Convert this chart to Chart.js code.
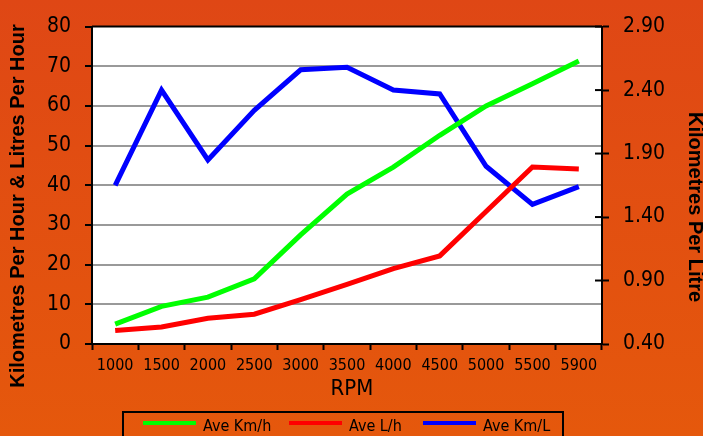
<!DOCTYPE html>
<html>
<head>
<meta charset="utf-8">
<script src="https://cdn.jsdelivr.net/npm/chart.js@4"></script>
<style>
  html, body { margin: 0; padding: 0; }
  body { width: 703px; height: 436px; overflow: hidden;
         background: linear-gradient(to bottom, #df4715, #e5580c); }
  canvas { display: block; }
</style>
</head>
<body>
<canvas id="chart" width="703" height="436"></canvas>
<script>
// RPM categories
const rpmLabels = ['1000', '1500', '2000', '2500', '3000', '3500', '4000', '4500', '5000', '5500', '5900'];

// series
const aveKmh = [5.0, 9.5, 11.8, 16.4, 27.5, 37.8, 44.6, 52.6, 60.0, 65.6, 71.3];
const aveLh = [3.4, 4.3, 6.5, 7.5, 11.2, 15.0, 19.0, 22.2, 33.4, 44.6, 44.1];
const aveKmL = [1.65, 2.40, 1.85, 2.24, 2.56, 2.58, 2.40, 2.37, 1.80, 1.50, 1.64];

const tickFont = 'DejaVu Sans Condensed, DejaVu Sans, sans-serif';

// white plot area, axis titles and boxed legend
const decorations = {
    id: 'decorations',
    beforeDraw: (chart) => {
        const { ctx, chartArea } = chart;
        ctx.save();
        ctx.fillStyle = '#FFFFFF';
        ctx.fillRect(chartArea.left, chartArea.top, chartArea.right - chartArea.left, chartArea.bottom - chartArea.top);
        ctx.restore();
    },
    afterDraw: (chart) => {
        const { ctx, chartArea } = chart;
        ctx.save();

        // top border of plot
        ctx.strokeStyle = '#000000';
        ctx.lineWidth = 2;
        ctx.beginPath();
        ctx.moveTo(chartArea.left, chartArea.top);
        ctx.lineTo(chartArea.right, chartArea.top);
        ctx.stroke();

        // right axis ticks cross into the plot
        const y1 = chart.scales.y1;
        y1.ticks.forEach((t) => {
            const py = y1.getPixelForValue(t.value);
            ctx.beginPath();
            ctx.moveTo(chartArea.right - 7, py);
            ctx.lineTo(chartArea.right, py);
            ctx.stroke();
        });

        ctx.fillStyle = '#000000';
        ctx.textAlign = 'center';
        ctx.textBaseline = 'middle';

        // left title
        ctx.font = 'bold 20px "Liberation Sans", Arial, sans-serif';
        ctx.save();
        ctx.translate(18, 206);
        ctx.rotate(-Math.PI / 2);
        ctx.fillText('Kilometres Per Hour & Litres Per Hour', 0, 0);
        ctx.restore();

        // right title
        ctx.save();
        ctx.translate(695, 207);
        ctx.rotate(Math.PI / 2);
        ctx.fillText('Kilometres Per Litre', 0, 0);
        ctx.restore();

        // x title
        ctx.font = '22px ' + tickFont;
        ctx.fillText('RPM', 352, 389);

        // legend box
        ctx.lineWidth = 2;
        ctx.strokeRect(123, 412, 440, 40);
        const starts = [143, 289, 423];
        ctx.font = '16px ' + tickFont;
        ctx.textAlign = 'left';
        chart.data.datasets.forEach((ds, i) => {
            ctx.strokeStyle = ds.borderColor;
            ctx.lineWidth = 4;
            ctx.beginPath();
            ctx.moveTo(starts[i], 423);
            ctx.lineTo(starts[i] + 53, 423);
            ctx.stroke();
            ctx.fillText(ds.label, starts[i] + 60, 427);
        });

        ctx.restore();
    }
};

new Chart(document.getElementById('chart'), {
    type: 'line',
    data: {
        labels: rpmLabels,
        datasets: [
            { label: 'Ave Km/h', data: aveKmh, borderColor: '#00FF00', yAxisID: 'y' },
            { label: 'Ave L/h', data: aveLh, borderColor: '#FF0000', yAxisID: 'y' },
            { label: 'Ave Km/L', data: aveKmL, borderColor: '#0000FF', yAxisID: 'y1' }
        ]
    },
    options: {
        responsive: false,
        animation: false,
        layout: { padding: { top: 23 } },
        elements: {
            line: { borderWidth: 5, tension: 0, borderCapStyle: 'butt' },
            point: { radius: 0 }
        },
        plugins: {
            legend: { display: false },
            tooltip: { enabled: false }
        },
        scales: {
            x: {
                offset: true,
                afterFit: (scale) => { scale.height = 92; },
                grid: { offset: true, drawOnChartArea: false, tickLength: 6, tickColor: '#000000', tickWidth: 2 },
                border: { color: '#000000', width: 2 },
                ticks: { color: '#000000', font: { family: tickFont, size: 16 }, padding: 6, maxRotation: 0, autoSkip: false }
            },
            y: {
                position: 'left',
                min: 0,
                max: 80,
                afterFit: (scale) => { scale.width = 92; },
                grid: {
                    color: (c) => (c.tick && (c.tick.value === 0 || c.tick.value === 80)) ? 'rgba(0,0,0,0)' : '#999999',
                    lineWidth: 2,
                    tickLength: 7,
                    tickColor: '#000000',
                    tickWidth: 2
                },
                border: { color: '#000000', width: 2 },
                ticks: { stepSize: 10, color: '#000000', font: { family: tickFont, size: 21 }, padding: 14 }
            },
            y1: {
                position: 'right',
                min: 0.4,
                max: 2.9,
                afterFit: (scale) => { scale.width = 101; },
                grid: { drawOnChartArea: false, tickLength: 7, tickColor: '#000000', tickWidth: 2 },
                border: { color: '#000000', width: 2 },
                ticks: {
                    stepSize: 0.5,
                    color: '#000000',
                    font: { family: tickFont, size: 21 },
                    padding: 14,
                    callback: (v) => Number(v).toFixed(2)
                }
            }
        }
    },
    plugins: [decorations]
});
</script>
</body>
</html>
